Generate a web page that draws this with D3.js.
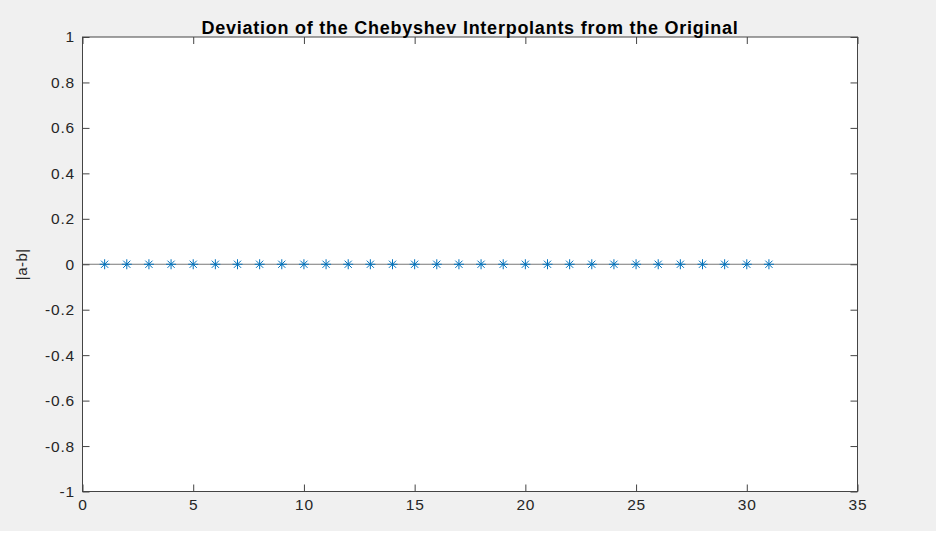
<!DOCTYPE html>
<html>
<head>
<meta charset="utf-8">
<script src="https://cdn.jsdelivr.net/npm/d3@7"></script>
<style>
  html, body { margin: 0; padding: 0; background: #f0f0f0; }
  svg { display: block; }
  text { font-family: "Liberation Sans", Arial, Helvetica, sans-serif; fill: #262626; }
</style>
</head>
<body>
<div id="chart"></div>
<script>
// sample index and |a-b| values (all effectively zero)
var xValues = [1,2,3,4,5,6,7,8,9,10,11,12,13,14,15,16,17,18,19,20,21,22,23,24,25,26,27,28,29,30,31];
var deviations = [0,0,0,0,0,0,0,0,0,0,0,0,0,0,0,0,0,0,0,0,0,0,0,0,0,0,0,0,0,0,0];
var xTicks = [0,5,10,15,20,25,30,35];
var yTicks = [-1,-0.8,-0.6,-0.4,-0.2,0,0.2,0.4,0.6,0.8,1];
var xDomain = [0, 35];
var yDomain = [-1, 1];

var width = 936,
    height = 534,
    margin = {top: 37, left: 82.5, bottom: 42.5, right: 78.5};

var chartWidth = width - (margin.left + margin.right),
    chartHeight = height - (margin.top + margin.bottom);

var svg = d3.select("#chart").append("svg")
    .attr("width", width)
    .attr("height", height);

svg.append("rect")
    .attr("x", 0).attr("y", height - 3)
    .attr("width", width).attr("height", 3)
    .attr("fill", "#ffffff");

var chartLayer = svg.append("g")
    .attr("transform", "translate(" + [margin.left, margin.top] + ")");

var x = d3.scaleLinear().domain(xDomain).range([0, chartWidth]);
var y = d3.scaleLinear().domain(yDomain).range([chartHeight, 0]);

chartLayer.append("rect")
    .attr("width", chartWidth)
    .attr("height", chartHeight)
    .attr("fill", "#ffffff");

// zero line
chartLayer.append("line")
    .attr("x1", x(xDomain[0])).attr("x2", x(xDomain[1]))
    .attr("y1", y(0)).attr("y2", y(0))
    .attr("stroke", "#7a7a7a")
    .attr("stroke-width", 1);

var tickLen = 7;
var fmt = function(d) { return String(+d.toFixed(1)); };

var axisColor = "#444";

function styleAxis(g) {
    g.select(".domain").remove();
    g.attr("font-size", null).attr("font-family", null);
    g.selectAll(".tick line").attr("stroke", axisColor).attr("stroke-width", 1);
    g.selectAll(".tick text")
        .style("font-size", "15.5px")
        .style("letter-spacing", "0.8px")
        .style("fill", "#262626");
}

chartLayer.append("g")
    .attr("transform", "translate(0," + chartHeight + ")")
    .call(d3.axisBottom(x).tickValues(xTicks).tickSizeInner(-tickLen).tickSizeOuter(0).tickPadding(7).tickFormat(fmt))
    .call(styleAxis);

chartLayer.append("g")
    .call(d3.axisTop(x).tickValues(xTicks).tickSizeInner(-tickLen).tickSizeOuter(0).tickFormat(""))
    .call(styleAxis);

chartLayer.append("g")
    .call(d3.axisLeft(y).tickValues(yTicks).tickSizeInner(-tickLen).tickSizeOuter(0).tickPadding(7.5).tickFormat(fmt))
    .call(styleAxis);

chartLayer.append("g")
    .attr("transform", "translate(" + chartWidth + ",0)")
    .call(d3.axisRight(y).tickValues(yTicks).tickSizeInner(-tickLen).tickSizeOuter(0).tickFormat(""))
    .call(styleAxis);

// box
chartLayer.append("rect")
    .attr("width", chartWidth)
    .attr("height", chartHeight)
    .attr("fill", "none")
    .attr("stroke", axisColor)
    .attr("stroke-width", 1);

// asterisk markers
var points = xValues.map(function(v, i) { return {x: v, y: deviations[i]}; });
var r = 5;
var spokes = [[-r,0,r,0],[0,-r,0,r],[-r*0.72,-r*0.72,r*0.72,r*0.72],[-r*0.72,r*0.72,r*0.72,-r*0.72]];

var marker = chartLayer.append("g")
    .attr("class", "markers")
    .selectAll("g")
    .data(points)
    .enter().append("g")
    .attr("transform", function(d) { return "translate(" + x(d.x) + "," + y(d.y) + ")"; });

marker.selectAll("line")
    .data(spokes)
    .enter().append("line")
    .attr("x1", function(s) { return s[0]; })
    .attr("y1", function(s) { return s[1]; })
    .attr("x2", function(s) { return s[2]; })
    .attr("y2", function(s) { return s[3]; })
    .attr("stroke", "#0072BD")
    .attr("stroke-width", 1);

// title
svg.append("text")
    .attr("x", margin.left + chartWidth / 2)
    .attr("y", 34)
    .attr("text-anchor", "middle")
    .style("font-size", "18px")
    .style("letter-spacing", "0.75px")
    .style("font-weight", "bold")
    .style("fill", "#000")
    .text("Deviation of the Chebyshev Interpolants from the Original");

// y label
svg.append("text")
    .attr("transform", "translate(27," + (margin.top + chartHeight / 2) + ") rotate(-90)")
    .attr("text-anchor", "middle")
    .style("font-size", "15px")
    .style("letter-spacing", "0.5px")
    .style("fill", "#262626")
    .text("|a-b|");
</script>
</body>
</html>
